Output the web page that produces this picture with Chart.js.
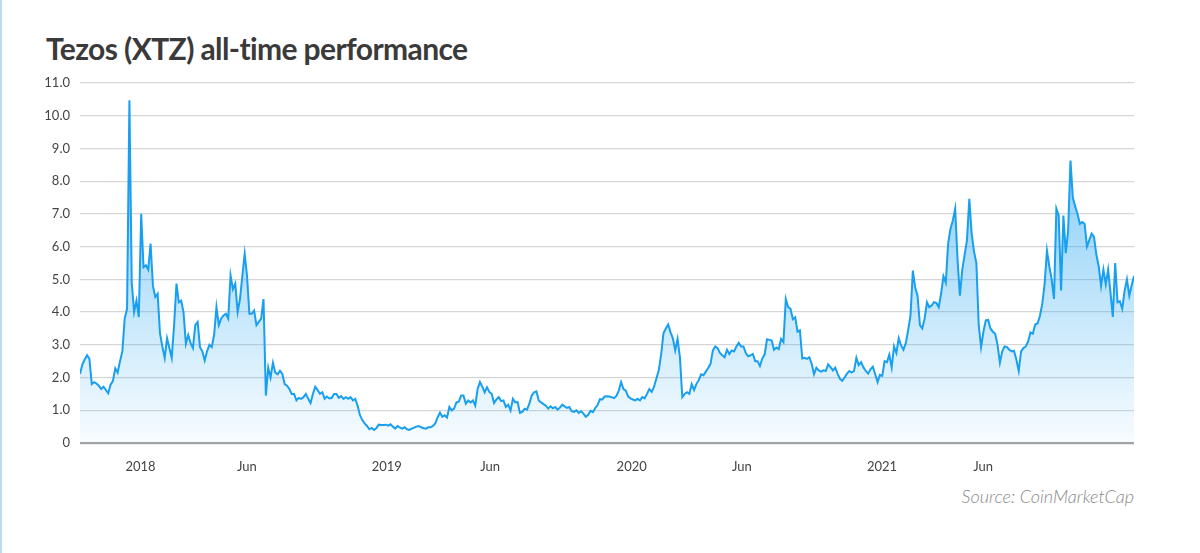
<!DOCTYPE html>
<html><head><meta charset="utf-8">
<script src="https://cdn.jsdelivr.net/npm/chart.js@4.4.1/dist/chart.umd.min.js"></script>
<style>
html,body{margin:0;padding:0;background:#fff;}
body{width:1200px;height:553px;position:relative;overflow:hidden;font-family:Lato,sans-serif;}
#edge{position:absolute;left:0;top:0;width:2px;height:553px;background:#b5def0;}
#title{position:absolute;left:46px;top:33px;font-family:Lato;font-weight:700;font-size:30px;line-height:30px;color:#3a3a3a;letter-spacing:-0.6px;margin:0;white-space:nowrap;}
#src{position:absolute;right:66px;top:487px;font-family:Lato;font-style:italic;font-weight:300;font-size:18px;line-height:18px;color:#8a8a8a;white-space:nowrap;}
canvas{position:absolute;left:0;top:0;}
</style></head><body>
<div id="edge"></div>
<h1 id="title">Tezos (XTZ) all-time performance</h1>
<div id="src">Source: CoinMarketCap</div>
<canvas id="c" width="1200" height="553"></canvas>
<script>
// XTZ price (USD), one sample every ~3.5 days, from early Oct 2017 to mid Jan 2022
const prices = [
2.11,2.4,2.55,2.68,2.57,1.8,1.86,1.82,1.75,1.65,
1.72,1.62,1.52,1.78,1.9,2.28,2.15,2.5,2.8,3.8,
4.1,10.47,4.9,4.0,4.35,3.85,7.0,5.37,5.43,5.3,
6.09,4.8,4.46,4.56,3.35,2.95,2.6,3.2,2.9,2.6,
3.6,4.87,4.3,4.35,4.0,3.03,3.3,3.05,2.9,3.6,
3.7,2.93,2.8,2.52,2.8,3.0,2.93,3.3,4.15,3.6,
3.8,3.9,3.95,3.8,5.12,4.7,4.87,4.0,4.4,5.1,
5.78,5.1,3.95,3.95,4.05,3.6,3.7,3.8,4.4,1.45,
2.3,2.0,2.45,2.15,2.1,2.21,2.11,1.8,1.75,1.65,
1.5,1.5,1.3,1.38,1.35,1.4,1.5,1.35,1.22,1.5,
1.72,1.62,1.5,1.55,1.35,1.42,1.36,1.38,1.5,1.5,
1.38,1.43,1.35,1.4,1.35,1.4,1.3,1.35,1.14,0.85,
0.7,0.6,0.52,0.42,0.46,0.4,0.46,0.56,0.55,0.55,
0.56,0.53,0.57,0.5,0.44,0.52,0.47,0.44,0.48,0.42,
0.4,0.44,0.47,0.5,0.52,0.48,0.45,0.44,0.48,0.48,
0.52,0.6,0.78,0.93,0.8,0.85,0.78,1.1,1.0,1.05,
1.24,1.26,1.45,1.45,1.2,1.3,1.24,1.3,1.14,1.65,
1.86,1.72,1.55,1.7,1.56,1.5,1.22,1.33,1.4,1.28,
1.3,1.1,1.17,0.99,1.35,1.24,1.25,0.92,0.95,1.05,
1.02,1.2,1.45,1.55,1.58,1.3,1.24,1.19,1.14,1.05,
1.12,1.06,1.1,1.02,1.08,1.17,1.12,1.07,1.1,0.97,
0.95,1.0,0.92,0.97,0.9,0.8,0.86,0.98,0.94,1.07,
1.16,1.34,1.33,1.42,1.43,1.42,1.4,1.37,1.44,1.6,
1.86,1.65,1.6,1.42,1.36,1.33,1.3,1.35,1.3,1.4,
1.36,1.5,1.65,1.56,1.72,1.97,2.22,2.7,3.35,3.5,
3.62,3.38,3.2,2.83,3.18,2.62,1.4,1.5,1.55,1.5,
1.8,1.62,1.8,1.92,2.1,2.07,2.18,2.29,2.42,2.83,
2.95,2.9,2.75,2.68,2.62,2.85,2.72,2.83,2.8,2.95,
3.06,2.95,2.95,2.75,2.65,2.68,2.72,2.5,2.5,2.35,
2.58,2.7,3.17,3.15,3.13,2.85,2.92,2.87,3.18,3.08,
4.4,4.15,4.1,3.78,3.84,3.4,3.44,2.58,2.6,2.57,
2.62,2.42,2.1,2.3,2.22,2.18,2.22,2.2,2.4,2.32,
2.22,2.3,2.12,1.96,1.9,2.0,2.12,2.2,2.15,2.2,
2.6,2.38,2.47,2.31,2.2,2.12,2.25,2.33,2.1,1.86,
2.08,2.05,2.5,2.47,2.7,2.31,2.95,2.75,3.2,2.98,
2.85,3.05,3.45,3.9,5.27,4.75,4.5,3.6,3.5,3.8,
4.3,4.15,4.2,4.3,4.28,4.15,4.56,5.1,4.9,6.1,
6.55,6.8,7.16,5.6,4.5,5.3,5.75,6.2,7.46,6.4,
5.85,5.5,3.6,2.93,3.4,3.75,3.76,3.5,3.4,3.34,
3.0,2.45,2.8,2.95,2.93,2.85,2.8,2.82,2.55,2.2,
2.8,2.9,2.95,3.1,3.38,3.34,3.62,3.65,3.88,4.25,
4.85,5.88,5.4,5.0,4.4,7.16,6.95,4.66,6.95,5.8,
6.5,8.63,7.5,7.23,7.0,6.7,6.75,6.7,6.0,6.2,
6.4,6.3,5.75,5.4,4.8,5.3,4.85,5.3,4.6,3.85,
5.5,4.3,4.33,4.1,4.65,5.0,4.5,4.81,5.1
];
// sample index of each x-axis label
const tickIdx = [25.7, 70.9, 130.4, 174.3, 234.5, 281.3, 340.9, 383.9];
const tickLabels = ['2018', 'Jun', '2019', 'Jun', '2020', 'Jun', '2021', 'Jun'];
const yTicks = [0,1,2,3,4,5,6,7,8,9,10,11];

const points = prices.map((p, i) => ({x: i, y: p}));

const ctx = document.getElementById('c').getContext('2d');
new Chart(ctx, {
  type: 'line',
  data: {
    datasets: [{
      data: points,
      borderColor: '#189ff0',
      borderWidth: 2,
      pointRadius: 0,
      tension: 0,
      fill: 'origin',
      backgroundColor: (c) => {
        const a = c.chart.chartArea;
        if (!a) return 'rgba(26,160,240,0.2)';
        const g = c.chart.ctx.createLinearGradient(0, a.top, 0, a.bottom);
        g.addColorStop(0, 'rgba(26,160,240,0.65)');
        g.addColorStop(0.55, 'rgba(26,160,240,0.3)');
        g.addColorStop(1, 'rgba(26,160,240,0.03)');
        return g;
      }
    }]
  },
  options: {
    responsive: false,
    animation: false,
    events: [],
    layout: {padding: {top: 83, right: 66, left: 0, bottom: 0}},
    plugins: {legend: {display: false}, tooltip: {enabled: false}},
    scales: {
      x: {
        type: 'linear',
        min: 0,
        max: prices.length - 1,
        grid: {display: false, drawTicks: false},
        border: {display: false},
        afterBuildTicks: (s) => { s.ticks = tickIdx.map(v => ({value: v})); },
        afterFit: (s) => { s.height = 110; },
        ticks: {
          autoSkip: false, maxRotation: 0, padding: 16,
          color: '#444', font: {family: 'Lato', size: 13},
          callback: (v, i) => tickLabels[i]
        }
      },
      y: {
        min: 0, max: 11,
        afterBuildTicks: (s) => { s.ticks = yTicks.map(v => ({value: v})); },
        afterFit: (s) => { s.width = 80; },
        border: {display: false},
        grid: {
          drawTicks: false,
          color: (c) => c.tick && c.tick.value === 0 ? '#a3a3a3' : '#d6d6d6',
          lineWidth: (c) => c.tick && c.tick.value === 0 ? 2.2 : 1.3
        },
        ticks: {
          padding: 10, color: '#444', font: {family: 'Lato', size: 13},
          callback: (v) => v === 0 ? '0' : v.toFixed(1)
        }
      }
    }
  }
});
</script>
</body></html>
